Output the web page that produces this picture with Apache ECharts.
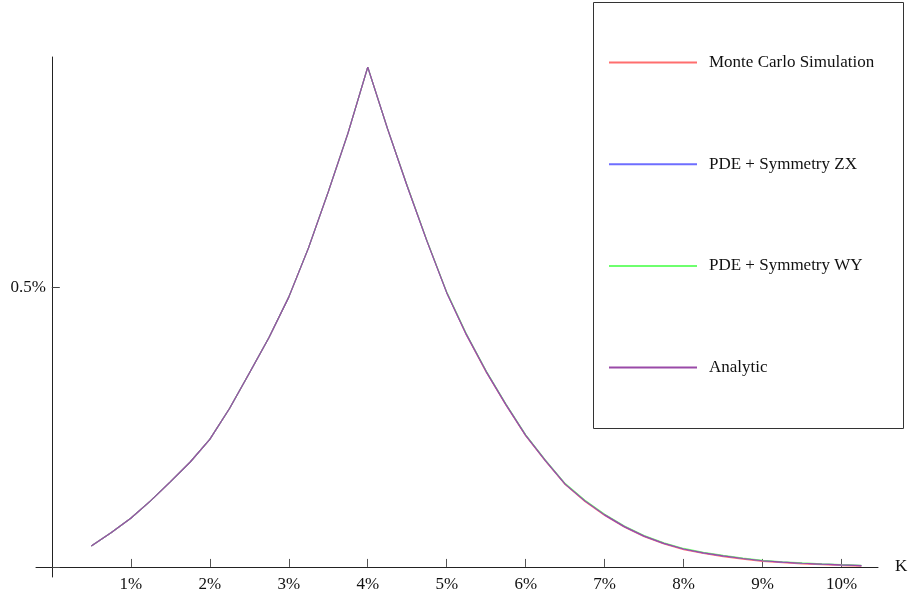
<!DOCTYPE html>
<html>
<head>
<meta charset="utf-8">
<script src="https://cdn.jsdelivr.net/npm/echarts@6/dist/echarts.min.js"></script>
<style>html,body{margin:0;padding:0;background:#fff}#c{width:909px;height:599px}</style>
</head>
<body>
<div id="c"></div>
<script>
var strikes = [0.5,0.75,1,1.25,1.5,1.75,2,2.25,2.5,2.75,3,3.25,3.5,3.75,4,4.25,4.5,4.75,5,5.25,5.5,5.75,6,6.25,6.5,6.75,7,7.25,7.5,7.75,8,8.25,8.5,8.75,9,9.25,9.5,9.75,10,10.25];
var monteCarlo = [0.0375,0.061,0.087,0.118,0.152,0.187,0.228,0.283,0.346,0.41,0.482,0.57,0.67,0.775,0.893,0.783,0.68,0.582,0.49,0.414,0.348,0.289,0.234,0.189,0.147,0.117,0.092,0.071,0.054,0.041,0.031,0.024,0.0185,0.014,0.0100,0.0075,0.0055,0.004,0.0025,0.0015];
var pdeZX = [0.0375,0.061,0.087,0.118,0.152,0.187,0.228,0.283,0.346,0.41,0.482,0.57,0.67,0.775,0.893,0.783,0.68,0.582,0.49,0.415,0.349,0.29,0.235,0.19,0.148,0.118,0.093,0.072,0.055,0.042,0.032,0.025,0.0196,0.015,0.011,0.0085,0.0066,0.005,0.0036,0.0025];
var pdeWY = [0.0375,0.061,0.087,0.118,0.152,0.187,0.228,0.283,0.346,0.41,0.482,0.57,0.67,0.775,0.893,0.783,0.681,0.583,0.491,0.416,0.35,0.291,0.236,0.191,0.149,0.119,0.094,0.073,0.056,0.043,0.033,0.026,0.0205,0.0158,0.0118,0.0092,0.0072,0.0056,0.0042,0.003];
var analytic = [0.0375,0.061,0.087,0.118,0.152,0.187,0.228,0.283,0.346,0.41,0.482,0.57,0.67,0.775,0.893,0.783,0.68,0.582,0.49,0.415,0.349,0.29,0.235,0.19,0.148,0.118,0.093,0.072,0.055,0.042,0.032,0.025,0.0196,0.015,0.011,0.0085,0.0066,0.005,0.0036,0.0025];
var seriesNames = ['Monte Carlo Simulation','PDE + Symmetry ZX','PDE + Symmetry WY','Analytic'];
var seriesColors = ['#ff6e6e','#6e6eff','#6eff6e','#9a4aa8'];
var xTicks = [1,2,3,4,5,6,7,8,9,10];
var yTicks = [0.5];

function pairs(ys){ return strikes.map(function(x,i){ return [x, ys[i]]; }); }
var allValues = [monteCarlo, pdeZX, pdeWY, analytic];

var font = 'Liberation Serif';
var chart = echarts.init(document.getElementById('c'));
chart.setOption({
  animation: false,
  backgroundColor: '#fff',
  grid: { left: 36, right: 31, top: 57, bottom: 22, containLabel: false, outerBoundsMode: 'none' },
  graphic: [{
    type: 'rect', left: 593, top: 2, z: 0,
    shape: { width: 310, height: 426 },
    style: { fill: '#fff', stroke: '#333', lineWidth: 1 }
  }],
  legend: {
    orient: 'vertical', left: 609, top: 54, padding: 0,
    icon: 'rect', itemWidth: 88, itemHeight: 2, itemGap: 84.7,
    textStyle: { fontFamily: font, fontSize: 17, lineHeight: 16, color: '#111', padding: [1,0,0,7] },
    data: seriesNames.map(function(n){ return { name: n }; })
  },
  xAxis: {
    type: 'value', min: -0.2, max: 10.46,
    name: 'K', nameLocation: 'end', nameGap: 17,
    nameTextStyle: { fontFamily: font, fontSize: 17, color: '#111' },
    axisLine: { onZero: true, lineStyle: { color: '#222', width: 1 } },
    axisTick: { show: true, inside: true, length: 8, customValues: xTicks, lineStyle: { color: '#555' } },
    axisLabel: { customValues: xTicks, margin: -1, fontFamily: font, fontSize: 17, color: '#111',
      formatter: function(v){ return v + '%'; } },
    splitLine: { show: false }
  },
  yAxis: {
    type: 'value', min: -0.018, max: 0.911,
    axisLine: { onZero: true, lineStyle: { color: '#222', width: 1 } },
    axisTick: { show: true, inside: true, length: 8, customValues: [0].concat(yTicks), lineStyle: { color: '#444' } },
    axisLabel: { customValues: yTicks, margin: -10, fontFamily: font, fontSize: 17, color: '#111',
      formatter: function(v){ return v + '%'; } },
    splitLine: { show: false }
  },
  series: seriesNames.map(function(n, i){
    return {
      name: n, type: 'line', data: pairs(allValues[i]),
      symbol: 'none', showSymbol: false, smooth: false,
      color: seriesColors[i],
      lineStyle: { width: 1.2, color: seriesColors[i] },
      z: 2 + i
    };
  })
});
</script>
</body>
</html>
